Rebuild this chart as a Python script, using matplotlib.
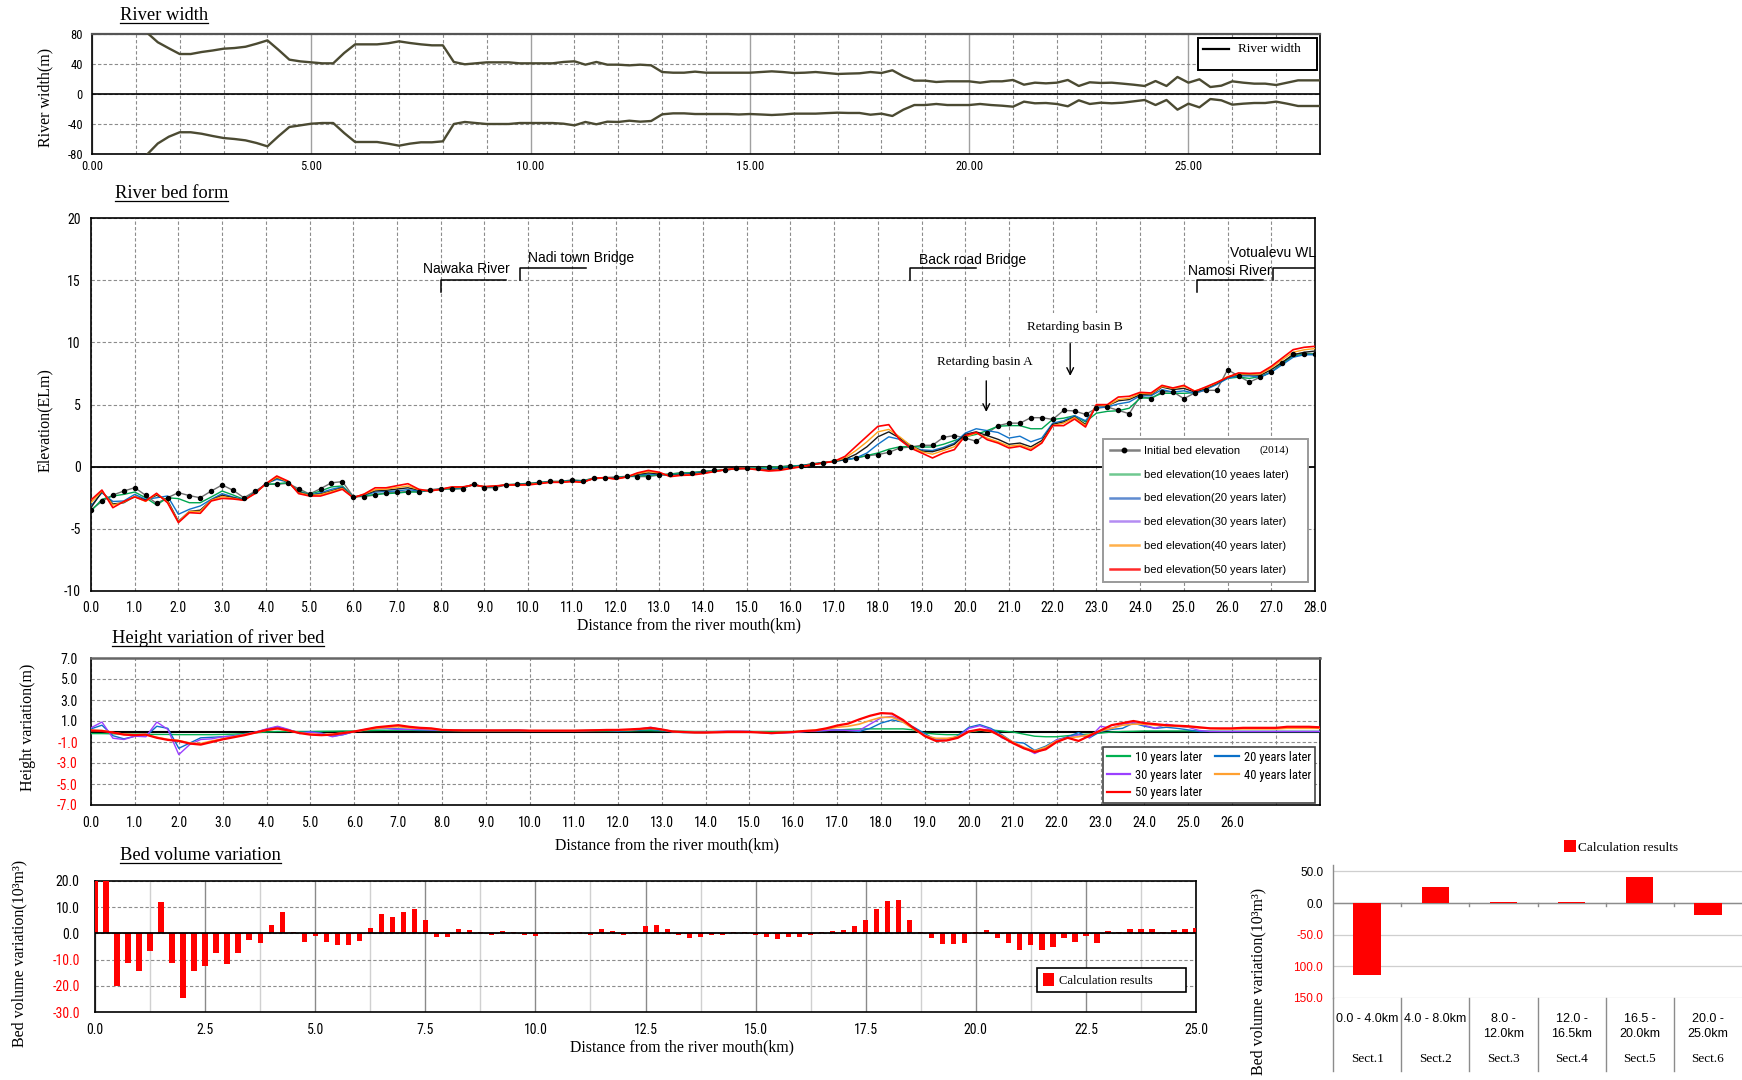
import numpy as np
import matplotlib
matplotlib.use("Agg")
import matplotlib.pyplot as plt
from matplotlib import font_manager
from matplotlib.lines import Line2D
from matplotlib.patches import Patch, Rectangle
from matplotlib.transforms import blended_transform_factory

# ---------------------------------------------------------------- data
BED_KM = np.arange(0, 28.001, 0.25)

INITIAL_BED = [
    -3.46, -2.80, -2.28, -1.96,
    -1.69, -2.30, -2.95, -2.50,
    -2.09, -2.33, -2.50, -1.96,
    -1.47, -1.90, -2.50, -1.98,
    -1.42, -1.42, -1.34, -1.77,
    -2.20, -1.77, -1.30, -1.20,
    -2.40, -2.40, -2.28, -2.10,
    -2.06, -2.00, -2.00, -1.85,
    -1.77, -1.82, -1.77, -1.37,
    -1.69, -1.69, -1.45, -1.40,
    -1.34, -1.26, -1.18, -1.18,
    -1.07, -1.13, -0.91, -0.88,
    -0.83, -0.78, -0.80, -0.80,
    -0.67, -0.59, -0.48, -0.48,
    -0.37, -0.30, -0.24, -0.13,
    -0.11, -0.08, -0.05, 0.00,
    0.08, 0.08, 0.24, 0.32,
    0.42, 0.55, 0.70, 0.88,
    0.97, 1.15, 1.50, 1.58,
    1.72, 1.72, 2.36, 2.50,
    2.30, 2.04, 2.70, 3.30,
    3.50, 3.50, 3.94, 3.94,
    3.80, 4.53, 4.48, 4.20,
    4.70, 4.80, 4.53, 4.26,
    5.66, 5.44, 6.03, 6.03,
    5.47, 5.93, 6.14, 6.14,
    7.80, 7.30, 6.80, 7.20,
    7.60, 8.30, 9.06, 9.10,
    9.10,
]

BED_10Y = [
    -3.57, -2.63, -2.36, -2.23,
    -2.04, -2.50, -3.08, -2.50,
    -2.57, -2.90, -2.90, -2.44,
    -1.96, -2.28, -2.63, -2.09,
    -1.42, -1.37, -1.29, -1.96,
    -2.23, -1.96, -1.63, -1.55,
    -2.44, -2.36, -2.23, -2.17,
    -2.12, -2.04, -2.04, -1.90,
    -1.82, -1.77, -1.74, -1.42,
    -1.66, -1.62, -1.45, -1.42,
    -1.37, -1.28, -1.20, -1.20,
    -1.10, -1.13, -0.95, -0.90,
    -0.88, -0.80, -0.75, -0.70,
    -0.65, -0.60, -0.52, -0.48,
    -0.40, -0.32, -0.25, -0.16,
    -0.12, -0.10, -0.07, -0.03,
    0.05, 0.10, 0.22, 0.33,
    0.45, 0.55, 0.70, 0.90,
    1.10, 1.40, 1.60, 1.62,
    1.58, 1.58, 1.80, 2.10,
    2.40, 2.60, 2.90, 3.25,
    3.30, 3.30, 3.05, 3.05,
    3.80, 3.90, 4.10, 3.60,
    4.30, 4.45, 4.50, 4.70,
    5.50, 5.55, 5.90, 5.90,
    5.90, 5.95, 6.30, 6.70,
    7.10, 7.20, 7.10, 7.25,
    7.60, 8.30, 8.90, 9.05,
    9.05,
]

BED_20Y = [
    -3.16, -2.10, -2.80, -2.76,
    -2.23, -2.63, -2.50, -2.36,
    -3.83, -3.43, -3.16, -2.63,
    -2.17, -2.44, -2.65, -2.09,
    -1.37, -1.02, -1.23, -2.00,
    -2.28, -2.10, -1.82, -1.63,
    -2.44, -2.30, -2.05, -2.00,
    -1.95, -1.85, -1.95, -1.92,
    -1.80, -1.72, -1.70, -1.45,
    -1.64, -1.60, -1.46, -1.44,
    -1.40, -1.30, -1.22, -1.22,
    -1.14, -1.18, -0.96, -0.92,
    -0.92, -0.82, -0.68, -0.60,
    -0.62, -0.68, -0.60, -0.55,
    -0.45, -0.36, -0.27, -0.18,
    -0.14, -0.16, -0.20, -0.14,
    -0.02, 0.08, 0.20, 0.32,
    0.44, 0.55, 0.70, 1.10,
    1.80, 2.40, 2.20, 1.60,
    1.35, 1.30, 1.55, 1.90,
    2.70, 3.05, 2.90, 2.75,
    2.30, 2.45, 2.00, 2.30,
    3.50, 3.70, 4.10, 3.70,
    4.75, 4.80, 5.05, 5.20,
    5.70, 5.70, 6.20, 6.00,
    6.10, 5.90, 6.20, 6.60,
    7.10, 7.30, 7.30, 7.20,
    7.60, 8.20, 8.80, 9.00,
    9.00,
]

BED_30Y = [
    -3.30, -2.00, -3.00, -2.90,
    -2.40, -2.70, -2.30, -2.70,
    -4.40, -3.60, -3.50, -2.70,
    -2.30, -2.50, -2.70, -2.10,
    -1.40, -0.90, -1.20, -2.05,
    -2.30, -2.20, -1.95, -1.70,
    -2.47, -2.25, -1.95, -1.90,
    -1.80, -1.70, -1.88, -1.95,
    -1.82, -1.68, -1.66, -1.46,
    -1.62, -1.57, -1.46, -1.45,
    -1.42, -1.32, -1.24, -1.24,
    -1.17, -1.22, -0.96, -0.92,
    -0.95, -0.83, -0.62, -0.50,
    -0.58, -0.72, -0.65, -0.60,
    -0.50, -0.38, -0.27, -0.17,
    -0.14, -0.20, -0.27, -0.20,
    -0.08, 0.05, 0.18, 0.30,
    0.43, 0.60, 1.00, 1.60,
    2.40, 2.80, 2.30, 1.70,
    1.25, 1.20, 1.45, 1.80,
    2.60, 2.80, 2.50, 2.20,
    1.80, 1.90, 1.60, 2.10,
    3.40, 3.60, 4.00, 3.40,
    4.90, 4.90, 5.30, 5.40,
    5.80, 5.80, 6.40, 6.20,
    6.30, 6.00, 6.30, 6.70,
    7.20, 7.40, 7.40, 7.35,
    7.80, 8.40, 9.00, 9.20,
    9.30,
]

BED_40Y = [
    -2.90, -1.95, -3.10, -2.85,
    -2.40, -2.80, -2.20, -2.80,
    -4.45, -3.60, -3.60, -2.70,
    -2.40, -2.55, -2.70, -2.15,
    -1.40, -0.85, -1.20, -2.10,
    -2.30, -2.25, -2.00, -1.75,
    -2.48, -2.22, -1.85, -1.80,
    -1.68, -1.55, -1.85, -1.95,
    -1.82, -1.66, -1.65, -1.47,
    -1.61, -1.56, -1.47, -1.46,
    -1.44, -1.34, -1.25, -1.25,
    -1.18, -1.24, -0.95, -0.90,
    -0.98, -0.83, -0.56, -0.40,
    -0.50, -0.76, -0.68, -0.64,
    -0.53, -0.39, -0.26, -0.16,
    -0.15, -0.23, -0.32, -0.26,
    -0.12, 0.02, 0.16, 0.30,
    0.44, 0.70, 1.30, 2.00,
    2.80, 3.00, 2.40, 1.70,
    1.20, 1.00, 1.30, 1.60,
    2.40, 2.70, 2.30, 2.00,
    1.65, 1.75, 1.45, 1.95,
    3.30, 3.50, 3.95, 3.30,
    5.00, 4.90, 5.40, 5.50,
    5.90, 5.85, 6.45, 6.30,
    6.45, 6.10, 6.35, 6.75,
    7.25, 7.45, 7.45, 7.45,
    7.95, 8.60, 9.20, 9.40,
    9.50,
]

BED_50Y = [
    -2.68, -1.88, -3.30, -2.80,
    -2.44, -2.76, -2.14, -2.90,
    -4.50, -3.70, -3.75, -2.76,
    -2.55, -2.60, -2.70, -2.17,
    -1.37, -0.75, -1.15, -2.17,
    -2.36, -2.36, -2.10, -1.82,
    -2.50, -2.20, -1.70, -1.70,
    -1.53, -1.37, -1.82, -1.96,
    -1.82, -1.63, -1.63, -1.47,
    -1.60, -1.55, -1.47, -1.47,
    -1.47, -1.37, -1.26, -1.26,
    -1.20, -1.26, -0.94, -0.88,
    -1.00, -0.83, -0.50, -0.30,
    -0.45, -0.80, -0.70, -0.67,
    -0.56, -0.40, -0.25, -0.15,
    -0.15, -0.25, -0.35, -0.30,
    -0.15, 0.00, 0.15, 0.30,
    0.43, 0.83, 1.64, 2.44,
    3.24, 3.38, 2.17, 1.50,
    1.10, 0.70, 1.10, 1.37,
    2.50, 2.76, 2.17, 1.90,
    1.50, 1.64, 1.31, 1.90,
    3.30, 3.30, 3.83, 3.19,
    4.99, 4.99, 5.60, 5.66,
    5.98, 5.93, 6.54, 6.33,
    6.54, 6.06, 6.41, 6.78,
    7.19, 7.54, 7.50, 7.54,
    8.07, 8.74, 9.41, 9.60,
    9.68,
]

# Height variation of the river bed (m) on the same 0.25 km stations
HV_10Y = [
    -0.20, -0.20, -0.22, -0.25,
    -0.25, -0.27, -0.28, -0.28,
    -0.30, -0.30, -0.30, -0.30,
    -0.28, -0.25, -0.20, -0.12,
    -0.05, 0.00, 0.00, 0.00,
    0.00, 0.02, 0.03, 0.05,
    0.05, 0.08, 0.10, 0.12,
    0.12, 0.12, 0.10, 0.10,
    0.08, 0.08, 0.06, 0.06,
    0.05, 0.05, 0.05, 0.05,
    0.05, 0.05, 0.05, 0.05,
    0.05, 0.05, 0.05, 0.05,
    0.05, 0.05, 0.08, 0.08,
    0.05, 0.03, 0.02, 0.00,
    0.00, 0.00, 0.00, 0.00,
    0.00, 0.00, 0.00, 0.00,
    0.00, 0.02, 0.05, 0.10,
    0.15, 0.20, 0.25, 0.25,
    0.25, 0.25, 0.25, 0.15,
    -0.15, -0.25, -0.30, -0.30,
    -0.05, 0.10, 0.15, 0.05,
    -0.05, -0.25, -0.45, -0.50,
    -0.50, -0.40, -0.30, -0.25,
    -0.15, -0.05, 0.00, 0.02,
    0.05, 0.05, 0.05, 0.05,
    0.05, 0.03, 0.02, 0.00,
    0.00, 0.00, 0.00, 0.00,
    0.00, 0.00, 0.00, 0.00,
    0.00,
]

HV_20Y = [
    0.25, 0.60, -0.40, -0.70,
    -0.45, -0.45, 0.50, 0.30,
    -1.60, -1.10, -0.60, -0.55,
    -0.50, -0.40, -0.25, -0.05,
    0.20, 0.45, 0.15, -0.10,
    0.00, -0.15, -0.45, -0.30,
    0.00, 0.15, 0.25, 0.30,
    0.25, 0.20, 0.15, 0.15,
    0.10, 0.10, 0.10, 0.08,
    0.08, 0.08, 0.08, 0.05,
    0.05, 0.05, 0.05, 0.05,
    0.05, 0.05, 0.10, 0.10,
    0.05, 0.08, 0.15, 0.20,
    0.10, -0.05, -0.10, -0.10,
    -0.10, -0.05, 0.00, 0.00,
    0.00, -0.05, -0.15, -0.10,
    -0.05, 0.00, 0.05, 0.10,
    0.15, 0.10, 0.00, 0.30,
    0.80, 1.10, 0.90, 0.40,
    -0.20, -0.80, -0.85, -0.40,
    0.40, 0.65, 0.30, -0.30,
    -1.00, -1.10, -1.80, -1.40,
    -0.80, -0.50, -0.10, -0.60,
    0.00, 0.20, 0.30, 0.80,
    0.50, 0.30, 0.40, 0.30,
    0.15, 0.00, 0.00, 0.00,
    0.00, 0.00, 0.00, 0.00,
    0.00, 0.00, 0.00, 0.00,
    0.00,
]

HV_30Y = [
    0.35, 0.90, -0.64, -0.76,
    -0.45, -0.50, 0.90, 0.20,
    -2.20, -1.24, -0.76, -0.70,
    -0.50, -0.45, -0.28, -0.06,
    0.25, 0.50, 0.20, -0.20,
    -0.06, -0.20, -0.50, -0.28,
    0.00, 0.20, 0.35, 0.30,
    0.20, 0.20, 0.20, 0.15,
    0.15, 0.15, 0.15, 0.15,
    0.12, 0.12, 0.15, 0.15,
    0.08, 0.08, 0.08, 0.08,
    0.08, 0.10, 0.15, 0.12,
    0.10, 0.15, 0.25, 0.40,
    0.20, 0.00, -0.05, -0.05,
    -0.05, 0.00, 0.05, 0.05,
    0.00, -0.10, -0.20, -0.15,
    -0.10, 0.00, 0.05, 0.10,
    0.15, 0.10, 0.10, 0.70,
    1.30, 1.45, 1.00, 0.30,
    -0.40, -0.85, -0.85, -0.55,
    0.30, 0.55, 0.20, -0.60,
    -1.00, -1.50, -2.10, -1.60,
    -0.80, -0.60, -0.30, -0.60,
    0.50, 0.30, 0.70, 0.85,
    0.60, 0.30, 0.70, 0.50,
    0.40, 0.10, 0.00, 0.00,
    0.00, 0.00, 0.00, 0.00,
    0.00, 0.00, 0.00, 0.00,
    0.00,
]

HV_40Y = [
    0.10, 0.10, -0.10, -0.25,
    -0.30, -0.30, -0.55, -0.75,
    -0.85, -1.10, -1.15, -0.90,
    -0.70, -0.50, -0.30, -0.10,
    0.12, 0.25, 0.08, -0.12,
    -0.25, -0.30, -0.25, -0.12,
    0.00, 0.15, 0.30, 0.40,
    0.45, 0.35, 0.30, 0.25,
    0.15, 0.12, 0.10, 0.10,
    0.10, 0.10, 0.10, 0.10,
    0.08, 0.08, 0.08, 0.08,
    0.08, 0.10, 0.12, 0.12,
    0.12, 0.15, 0.22, 0.30,
    0.18, 0.00, -0.05, -0.08,
    -0.10, -0.05, 0.00, 0.00,
    -0.03, -0.08, -0.12, -0.08,
    -0.03, 0.05, 0.15, 0.25,
    0.40, 0.50, 0.70, 1.05,
    1.35, 1.35, 0.90, 0.20,
    -0.40, -0.65, -0.65, -0.50,
    0.00, 0.15, 0.00, -0.40,
    -1.00, -1.50, -1.85, -1.50,
    -0.90, -0.60, -0.50, -0.30,
    0.05, 0.30, 0.60, 0.70,
    0.70, 0.60, 0.55, 0.50,
    0.45, 0.35, 0.30, 0.25,
    0.25, 0.25, 0.25, 0.25,
    0.25, 0.30, 0.30, 0.30,
    0.30,
]

HV_50Y = [
    0.10, 0.05, -0.10, -0.30,
    -0.35, -0.30, -0.60, -0.80,
    -0.90, -1.15, -1.25, -1.00,
    -0.75, -0.55, -0.35, -0.10,
    0.15, 0.30, 0.10, -0.15,
    -0.30, -0.35, -0.30, -0.15,
    0.00, 0.20, 0.40, 0.50,
    0.60, 0.45, 0.35, 0.30,
    0.15, 0.12, 0.10, 0.10,
    0.10, 0.10, 0.10, 0.10,
    0.08, 0.08, 0.08, 0.08,
    0.08, 0.10, 0.12, 0.15,
    0.15, 0.20, 0.25, 0.35,
    0.20, 0.00, -0.05, -0.10,
    -0.10, -0.08, -0.05, -0.05,
    -0.05, -0.10, -0.15, -0.10,
    -0.05, 0.05, 0.10, 0.30,
    0.57, 0.75, 1.15, 1.50,
    1.75, 1.70, 1.10, 0.30,
    -0.45, -0.90, -0.85, -0.60,
    0.00, 0.20, 0.05, -0.50,
    -1.10, -1.60, -1.95, -1.70,
    -1.00, -0.60, -0.90, -0.40,
    0.10, 0.60, 0.80, 1.00,
    0.80, 0.70, 0.60, 0.55,
    0.50, 0.40, 0.30, 0.30,
    0.30, 0.35, 0.35, 0.35,
    0.35, 0.45, 0.45, 0.45,
    0.40,
]

# River width: left and right bank offsets (m) from the centre line
WIDTH_KM = np.arange(1.25, 28.001, 0.25)
WIDTH_LEFT = [
    82.0, 69.0, 61.0,
    53.3, 53.3, 56.0, 58.0,
    60.4, 61.3, 63.0, 67.0,
    71.5, 59.0, 45.8, 43.5,
    42.2, 40.9, 40.9, 54.7,
    66.2, 66.2, 66.2, 67.6,
    70.2, 68.0, 66.2, 64.9,
    64.9, 42.7, 39.6, 40.9,
    42.2, 42.2, 42.2, 40.9,
    40.9, 40.9, 40.9, 42.7,
    43.6, 39.1, 42.7, 39.1,
    39.1, 38.2, 39.1, 38.2,
    29.3, 28.4, 28.4, 29.8,
    28.4, 28.4, 28.4, 28.4,
    28.4, 29.3, 30.2, 29.3,
    28.0, 28.4, 29.3, 28.0,
    26.7, 27.2, 27.6, 29.3,
    28.0, 31.6, 23.6, 17.8,
    17.8, 16.0, 16.9, 16.9,
    16.9, 15.1, 16.9, 16.9,
    18.7, 12.4, 15.1, 14.2,
    15.1, 18.7, 10.7, 15.6,
    14.7, 15.1, 13.8, 12.4,
    10.7, 17.3, 10.7, 22.7,
    15.1, 19.6, 9.3, 11.1,
    16.9, 15.1, 13.8, 13.8,
    12.0, 15.1, 18.2, 18.2,
    18.2,
]
WIDTH_RIGHT = [
    -81.0, -66.0, -57.0,
    -51.0, -51.0, -53.0, -56.0,
    -58.7, -60.0, -61.8, -65.3,
    -69.8, -56.4, -44.0, -41.8,
    -39.6, -38.7, -38.7, -52.0,
    -64.0, -64.0, -64.0, -66.2,
    -68.9, -66.2, -64.4, -64.4,
    -63.1, -40.0, -37.3, -38.7,
    -40.0, -40.0, -40.0, -38.7,
    -38.7, -38.7, -38.7, -39.6,
    -41.8, -37.3, -40.4, -36.9,
    -37.3, -35.6, -36.9, -36.0,
    -27.1, -25.8, -25.8, -26.7,
    -26.7, -26.7, -26.7, -27.3,
    -26.7, -27.3, -28.0, -27.3,
    -26.2, -26.2, -26.2, -25.5,
    -24.9, -25.3, -25.3, -27.6,
    -26.2, -29.3, -20.9, -14.7,
    -14.7, -13.3, -14.7, -14.7,
    -14.7, -13.3, -14.7, -15.6,
    -16.9, -10.2, -12.4, -12.0,
    -13.3, -16.4, -8.4, -13.3,
    -11.6, -12.4, -11.6, -9.8,
    -8.0, -14.7, -8.0, -20.9,
    -12.9, -17.8, -6.7, -8.4,
    -14.2, -12.9, -12.0, -12.0,
    -10.2, -12.9, -16.0, -16.0,
    -16.0,
]

# Bed volume variation (10^3 m^3) every 0.25 km
VOLUME_KM = np.arange(0, 25.001, 0.25)
VOLUME = [
    24.0, 22.0, -20.0, -11.2,
    -14.5, -6.8, 12.0, -11.3,
    -24.5, -14.5, -12.5, -7.6,
    -11.7, -7.5, -2.5, -3.7,
    3.3, 8.2, 0.5, -3.2,
    -0.9, -3.2, -4.5, -4.5,
    -3.0, 2.1, 7.5, 6.3,
    8.2, 9.5, 5.0, -1.3,
    -1.3, 1.6, 1.2, 0.5,
    -0.5, 0.9, 0.6, -0.5,
    -0.9, 0.5, -0.4, 0.5,
    0.5, -0.8, 1.6, 1.0,
    -0.5, 0.5, 2.8, 3.3,
    1.6, -0.5, -1.6, -1.3,
    -0.8, -0.5, 0.5, 0.5,
    -0.5, -1.3, -2.2, -1.2,
    -1.2, -0.5, 0.5, 0.8,
    1.3, 2.9, 5.3, 9.4,
    12.2, 12.9, 5.3, 0.5,
    -1.9, -3.9, -3.9, -3.5,
    0.5, 1.2, -1.9, -3.5,
    -6.3, -4.4, -6.3, -5.2,
    -1.9, -3.2, -1.1, -3.5,
    1.0, 0.6, 1.8, 1.8,
    1.8, 0.6, 1.3, 1.7,
    2.0,
]

SECTION_RANGES = ["0.0 - 4.0km", "4.0 - 8.0km", "8.0 -\n12.0km",
                  "12.0 -\n16.5km", "16.5 -\n20.0km", "20.0 -\n25.0km"]
SECTION_NAMES = ["Sect.1", "Sect.2", "Sect.3", "Sect.4", "Sect.5", "Sect.6"]
SECTION_VALUES = [-113.0, 25.5, 2.0, 2.0, 40.5, -19.0]
SECTION_TICKS = [50, 0, -50, -100, -150]
SECTION_TICK_LABELS = ["50.0", "0.0", "-50.0", "100.0", "150.0"]

# landmark brackets: label, stem x, end x, bar y, stem foot y, text x, text y
LANDMARKS = [
    ("Nawaka River", 8.00, 9.50, 15.0, 14.05, 7.60, 15.9),
    ("Nadi town Bridge", 9.82, 11.33, 16.0, 15.0, 10.00, 16.8),
    ("Back road Bridge", 18.74, 20.25, 16.0, 15.0, 18.95, 16.6),
    ("Namosi River", 25.30, 26.80, 15.0, 14.05, 25.10, 15.7),
    ("Votualevu WL", 27.05, 28.00, 16.0, 15.0, 26.05, 17.2),
]
# retarding basins: label, text x, text y, arrow x, arrow start y, arrow end y
BASINS = [
    ("Retarding basin A", 20.45, 8.4, 20.48, 6.9, 4.4),
    ("Retarding basin B", 22.51, 11.2, 22.40, 9.9, 7.3),
]

# ---------------------------------------------------------------- fonts
_installed = {f.name for f in font_manager.fontManager.ttflist}


def pick(*names):
    for n in names:
        if n in _installed:
            return n
    return "DejaVu Sans"


SERIF = pick("Liberation Serif", "DejaVu Serif")
SANS = pick("Liberation Sans", "Roboto", "DejaVu Sans")
NARROW = pick("Liberation Sans Narrow", "DejaVu Sans Condensed",
              "Roboto Condensed", "Liberation Sans")

plt.rcParams["font.family"] = [SANS, "DejaVu Sans"]
plt.rcParams["axes.unicode_minus"] = False

RED = "#ff0000"
GRID = "#8c8c8c"
DASH = (0, (3, 2))

W, H = 1742, 1080
fig = plt.figure(figsize=(W / 100, H / 100), dpi=100)


def px_axes(left, top, right, bottom):
    return fig.add_axes([left / W, 1 - bottom / H, (right - left) / W, (bottom - top) / H])


def fig_text(x, y, s, **kw):
    return fig.text(x / W, 1 - y / H, s, **kw)


titles = []


def title(s, x, baseline):
    t = fig_text(x, baseline, s, fontsize=13.3, family=SERIF, va="baseline", ha="left")
    titles.append((t, baseline))


def red_negative_labels(ax, values):
    for lab, v in zip(ax.get_yticklabels(), values):
        if v < 0:
            lab.set_color(RED)


# ---------------------------------------------------------------- river width
ax1 = px_axes(92, 34, 1320, 154)
ax1.plot(WIDTH_KM, WIDTH_LEFT, color="#4b4a32", lw=1.7, zorder=3)
ax1.plot(WIDTH_KM, WIDTH_RIGHT, color="#4b4a32", lw=1.7, zorder=3)
ax1.set_xlim(0, 28)
ax1.set_ylim(-80, 80)
ax1.set_xticks(np.arange(0, 26, 5))
ax1.set_xticklabels([f"{v:.2f}" for v in np.arange(0, 26, 5)])
ax1.set_xticks(np.arange(0, 29, 1), minor=True)
ax1.set_yticks([-80, -40, 0, 40, 80])
ax1.set_axisbelow(True)
ax1.grid(which="minor", axis="x", color=GRID, ls=DASH, lw=0.8)
ax1.grid(which="major", axis="x", color="#a0a0a0", ls="-", lw=1.0)
ax1.grid(which="major", axis="y", color=GRID, ls=DASH, lw=0.8)
ax1.axhline(0, color="black", lw=1.2, zorder=2)
ax1.tick_params(which="both", length=0, labelsize=9, labelfontfamily=NARROW)
ax1.tick_params(axis="x", pad=4.0)
ax1.tick_params(axis="y", pad=6.5)
for sp in ax1.spines.values():
    sp.set_linewidth(1.2)
ax1.spines["top"].set_color("#555555")
ax1.spines["top"].set_linewidth(1.6)
ax1.add_patch(Rectangle((0.9007, 0.70), 0.0969, 0.264, transform=ax1.transAxes,
                        fc="white", ec="black", lw=1.4, zorder=5))
ax1.plot([0.9047, 0.9259], [0.8725, 0.8725], transform=ax1.transAxes,
         color="black", lw=1.6, zorder=6)
ax1.text(0.9332, 0.8725, "River width", transform=ax1.transAxes, family=SERIF,
         fontsize=9.5, va="center", ha="left", zorder=6)
title("River width", 120, 20)
fig_text(45, 97, "River width(m)", rotation=90, family=SERIF, fontsize=11.5,
         ha="center", va="center")

# ---------------------------------------------------------------- river bed form
ax2 = px_axes(91, 218, 1315, 591)
ax2.set_xlim(0, 28)
ax2.set_ylim(-10, 20)
ax2.set_xticks(np.arange(0, 28.01, 1))
ax2.set_xticklabels([f"{v:.1f}" for v in np.arange(0, 28.01, 1)])
ax2.set_yticks(np.arange(-10, 21, 5))
ax2.set_axisbelow(True)
ax2.grid(True, color=GRID, ls=DASH, lw=0.8)
ax2.axhline(0, color="black", lw=1.3, zorder=2)
ax2.tick_params(length=0, labelsize=10, labelfontfamily=NARROW)
ax2.tick_params(axis="x", pad=7.0)
ax2.tick_params(axis="y", pad=7.5)
for sp in ax2.spines.values():
    sp.set_linewidth(1.2)

ax2.plot(BED_KM, INITIAL_BED, color="#6e6e6e", lw=1.0, zorder=3)
ax2.plot(BED_KM, BED_10Y, color="#00a650", lw=1.0, zorder=4)
ax2.plot(BED_KM, BED_20Y, color="#1173c9", lw=1.0, zorder=4)
ax2.plot(BED_KM, BED_30Y, color="#1a1a1a", lw=1.0, zorder=4)
ax2.plot(BED_KM, BED_40Y, color="#ffa31a", lw=1.0, zorder=4)
ax2.plot(BED_KM, BED_50Y, color=RED, lw=1.2, zorder=5)
ax2.plot(BED_KM, INITIAL_BED, ls="none", marker="o", ms=2.9, color="black", zorder=6)

for name, xs, xe, yb, yf, tx, ty in LANDMARKS:
    ax2.plot([xs, xs, xe], [yf, yb, yb], color="black", lw=1.1, zorder=3)
    ax2.text(tx, ty, name, ha="left", va="center", fontsize=10, family=SANS, zorder=6)
for name, tx, ty, axx, ay0, ay1 in BASINS:
    ax2.text(tx, ty, name, ha="center", va="center", fontsize=9.5, family=SERIF,
             zorder=6, bbox=dict(fc="white", ec="none", pad=6))
    ax2.annotate("", xy=(axx, ay1), xytext=(axx, ay0), zorder=6,
                 arrowprops=dict(arrowstyle="->", color="black", lw=1.0,
                                 mutation_scale=12, shrinkA=0, shrinkB=0))

bed_handles = [
    Line2D([], [], color="#808080", lw=1.8, marker="o", ms=3.2, mfc="black", mec="black"),
    Line2D([], [], color="#6fc890", lw=1.8),
    Line2D([], [], color="#5f8bd0", lw=1.8),
    Line2D([], [], color="#b48cf2", lw=1.8),
    Line2D([], [], color="#ffb04a", lw=1.8),
    Line2D([], [], color="#ff2a2a", lw=1.8),
]
bed_labels = ["Initial bed elevation", "bed elevation(10 yeaes later)",
              "bed elevation(20 years later)", "bed elevation(30 years later)",
              "bed elevation(40 years later)", "bed elevation(50 years later)"]
leg2 = ax2.legend(bed_handles, bed_labels, loc="upper left",
                  bbox_to_anchor=(0.827, 0.4075, 0.167, 0.0), mode="expand",
                  borderaxespad=0, prop=dict(family=SANS, size=8), handlelength=2.6,
                  handletextpad=0.45, labelspacing=1.25, borderpad=0.6,
                  fancybox=False, framealpha=1, edgecolor="#9a9a9a")
leg2.get_frame().set_linewidth(1.4)
leg2.set_zorder(7)
title("River bed form", 115, 198)
fig_text(45, 420, "Elevation(ELm)", rotation=90, family=SERIF, fontsize=11.5,
         ha="center", va="center")
fig_text(689, 625, "Distance from the river mouth(km)", family=SERIF, fontsize=11.4,
         ha="center", va="center")

# ---------------------------------------------------------------- height variation
ax3 = px_axes(91, 658, 1320, 805)
ax3.set_xlim(0, 28)
ax3.set_ylim(-7, 7)
ax3.set_xticks(np.arange(0, 28.01, 1))
ax3.set_xticklabels([f"{v:.1f}" if v <= 26 else "" for v in np.arange(0, 28.01, 1)])
hv_ticks = [-7, -5, -3, -1, 1, 3, 5, 7]
ax3.set_yticks(hv_ticks)
ax3.set_yticklabels([f"{v:.1f}" for v in hv_ticks])
red_negative_labels(ax3, hv_ticks)
ax3.set_axisbelow(True)
ax3.grid(True, color=GRID, ls=DASH, lw=0.8)
ax3.axhline(0, color="black", lw=1.5, zorder=2)
ax3.tick_params(length=0, labelsize=10, labelfontfamily=NARROW)
ax3.tick_params(axis="x", pad=8.0)
ax3.tick_params(axis="y", pad=9.5)
for sp in ax3.spines.values():
    sp.set_linewidth(1.2)
ax3.spines["top"].set_color("#666666")
ax3.spines["top"].set_linewidth(1.8)

h10, = ax3.plot(BED_KM, HV_10Y, color="#00b050", lw=1.0, zorder=3)
h20, = ax3.plot(BED_KM, HV_20Y, color="#0a70c8", lw=1.0, zorder=3)
h30, = ax3.plot(BED_KM, HV_30Y, color="#9b40ff", lw=1.0, zorder=3)
h40, = ax3.plot(BED_KM, HV_40Y, color="#ffa030", lw=1.2, zorder=4)
h50, = ax3.plot(BED_KM, HV_50Y, color=RED, lw=1.6, zorder=5)
leg3 = ax3.legend([h10, h30, h50, h20, h40],
                  ["10 years later", "30 years later", "50 years later",
                   "20 years later", "40 years later"],
                  ncol=2, loc="lower left", bbox_to_anchor=(0.8234, 0.0136, 0.1726, 0.0),
                  mode="expand", borderaxespad=0, prop=dict(family=NARROW, size=9),
                  handlelength=1.9, handletextpad=0.4, labelspacing=0.38,
                  columnspacing=0.6, borderpad=0.3, fancybox=False, framealpha=1,
                  edgecolor="#444444")
leg3.get_frame().set_linewidth(1.2)
for ln in leg3.get_lines():
    ln.set_linewidth(1.6)
title("Height variation of river bed", 112, 643)
fig_text(28, 727, "Height variation(m)", rotation=90, family=SERIF, fontsize=11.5,
         ha="center", va="center")
fig_text(667, 845, "Distance from the river mouth(km)", family=SERIF, fontsize=11.4,
         ha="center", va="center")

# ---------------------------------------------------------------- bed volume variation
ax4 = px_axes(95, 881, 1196, 1012)
ax4.bar(VOLUME_KM, VOLUME, width=0.12, color=RED, zorder=3)
ax4.set_xlim(0, 25)
ax4.set_ylim(-30, 20)
vol_xt = np.arange(0, 25.01, 2.5)
ax4.set_xticks(vol_xt)
ax4.set_xticklabels([f"{v:.1f}" for v in vol_xt])
ax4.set_xticks(np.arange(0, 25.01, 1.25), minor=True)
vol_yt = [-30, -20, -10, 0, 10, 20]
ax4.set_yticks(vol_yt)
ax4.set_yticklabels([f"{v:.1f}" for v in vol_yt])
red_negative_labels(ax4, vol_yt)
ax4.set_axisbelow(True)
ax4.grid(which="minor", axis="x", color="#d0d0d0", ls="-", lw=1.0)
ax4.grid(which="major", axis="x", color="#8a8a8a", ls="-", lw=1.0)
ax4.grid(which="major", axis="y", color=GRID, ls=DASH, lw=0.8)
ax4.axhline(0, color="black", lw=1.3, zorder=4)
ax4.tick_params(which="both", length=0, labelsize=10, labelfontfamily=NARROW)
ax4.tick_params(axis="x", pad=8.0)
ax4.tick_params(axis="y", pad=11)
for sp in ax4.spines.values():
    sp.set_linewidth(1.2)
leg4 = ax4.legend([Patch(fc=RED, ec="none")], ["Calculation results"], loc="center",
                  bbox_to_anchor=(0.8556, 0.145, 0.1354, 0.1985), mode="expand",
                  borderaxespad=0, prop=dict(family=SERIF, size=9), handlelength=0.9,
                  handleheight=1.2, handletextpad=0.4, borderpad=0.45, fancybox=False,
                  framealpha=1, edgecolor="black")
leg4.get_frame().set_linewidth(1.2)
title("Bed volume variation", 120, 860)
fig_text(19, 953, "Bed volume variation(10³m³)", rotation=90, family=SERIF,
         fontsize=11.5, ha="center", va="center")
fig_text(682, 1047, "Distance from the river mouth(km)", family=SERIF, fontsize=11.4,
         ha="center", va="center")

# ---------------------------------------------------------------- section totals
ax5 = px_axes(1333, 865, 1742, 998)
sect_x = np.arange(len(SECTION_VALUES))
ax5.bar(sect_x, SECTION_VALUES, width=0.4, color=RED, zorder=3)
ax5.set_xlim(-0.5, len(SECTION_VALUES) - 0.5)
ax5.set_ylim(-150, 60)
ax5.set_yticks(SECTION_TICKS)
ax5.set_yticklabels(SECTION_TICK_LABELS)
red_negative_labels(ax5, SECTION_TICKS)
ax5.set_xticks([])
ax5.set_axisbelow(True)
ax5.grid(axis="y", color="#cfcfcf", ls="-", lw=0.9)
ax5.axhline(0, color="#8c8c8c", lw=1.0, zorder=2)
ax5.tick_params(length=0, labelsize=8.5, labelfontfamily=SANS, pad=7)
for side in ("top", "right", "bottom"):
    ax5.spines[side].set_visible(False)
ax5.spines["left"].set_color("#8c8c8c")
ax5.spines["left"].set_linewidth(1.0)
below = blended_transform_factory(ax5.transData, ax5.transAxes)
for b in np.arange(-0.5, len(SECTION_VALUES) - 1, 1.0):
    ax5.plot([b, b], [0, -0.55], transform=below, color="#8c8c8c", lw=1.0, clip_on=False)
for b in np.arange(0.5, len(SECTION_VALUES) - 1, 1.0):
    ax5.plot([b, b], [0, -4], color="#8c8c8c", lw=1.0, zorder=2)
for i, (rng, nm) in enumerate(zip(SECTION_RANGES, SECTION_NAMES)):
    ax5.text(i, -0.113, rng, transform=below, ha="center", va="top", fontsize=9,
             family=SANS, linespacing=1.3, clip_on=False)
    ax5.text(i, -0.459, nm, transform=below, ha="center", va="center", fontsize=9.5,
             family=SERIF, clip_on=False)
ax5.legend([Patch(fc=RED, ec="none")], ["Calculation results"], loc="center",
           bbox_to_anchor=(0.704, 1.135), frameon=False,
           prop=dict(family=SERIF, size=9.6), handlelength=0.9, handleheight=1.0,
           handletextpad=0.15, borderpad=0.1)
fig_text(1258, 981, "Bed volume variation(10³m³)", rotation=90, family=SERIF,
         fontsize=11.5, ha="center", va="center")

# ---------------------------------------------------------------- finishing touches
fig.canvas.draw()
renderer = fig.canvas.get_renderer()

# survey year written beside the first legend entry
first = leg2.get_texts()[0].get_window_extent(renderer=renderer)
fig.text(1259 / W, (first.y0 + first.y1) / 2 / H, "(2014)", family=SERIF, fontsize=8,
         va="center", ha="left", zorder=10)

# underlined panel titles
for t, base in titles:
    bb = t.get_window_extent(renderer=renderer)
    yline = 1 - (base + 3) / H
    fig.add_artist(Line2D([bb.x0 / W, bb.x1 / W], [yline, yline],
                          transform=fig.transFigure, color="black", lw=0.9))

fig.savefig("out.png", dpi=100)
